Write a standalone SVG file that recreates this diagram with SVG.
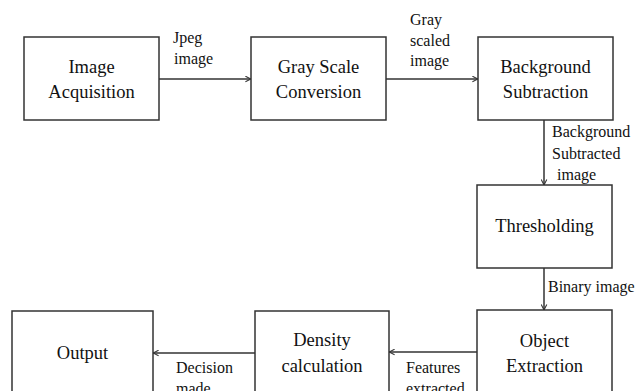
<svg xmlns="http://www.w3.org/2000/svg" width="637" height="391" viewBox="0 0 637 391">
<style>
.box{fill:#fff;stroke:#333;stroke-width:1.5}
.t{font-family:"Liberation Serif","Times New Roman",serif;font-size:18.5px;fill:#111;text-anchor:middle}
.l{font-family:"Liberation Serif","Times New Roman",serif;font-size:16px;fill:#111}
.c{stroke:#333;stroke-width:1.5;fill:none;marker-end:url(#arr)}
</style>
<defs>
<marker id="arr" viewBox="0 0 10 10" refX="9" refY="5" markerWidth="7" markerHeight="7" markerUnits="userSpaceOnUse" orient="auto">
<path d="M1,1 L9,5 L1,9" fill="none" stroke="#333" stroke-width="1.5"/>
</marker>
</defs>
<rect width="637" height="391" fill="#fff"/>
<g id="connectors">
<line class="c" x1="159" y1="79" x2="251" y2="79"/>
<line class="c" x1="386" y1="79" x2="478" y2="79"/>
<line class="c" x1="544" y1="120" x2="544" y2="185"/>
<line class="c" x1="544" y1="268" x2="544" y2="310"/>
<line class="c" x1="477" y1="352" x2="389" y2="352"/>
<line class="c" x1="255" y1="353" x2="153" y2="353"/>
<text class="l" x="173" y="43">Jpeg</text>
<text class="l" x="174" y="64">image</text>
<text class="l" x="410" y="25">Gray</text>
<text class="l" x="410" y="46">scaled</text>
<text class="l" x="410" y="66">image</text>
<text class="l" x="552" y="137">Background</text>
<text class="l" x="552" y="159">Subtracted</text>
<text class="l" x="557" y="180">image</text>
<text class="l" x="548" y="292">Binary image</text>
<text class="l" x="406" y="373">Features</text>
<text class="l" x="406" y="394">extracted</text>
<text class="l" x="176" y="373">Decision</text>
<text class="l" x="176" y="394">made</text>
</g>
<g id="n1"><rect class="box" x="24" y="37" width="135" height="83"/><text class="t" x="91.5" y="73">Image</text><text class="t" x="91.5" y="98">Acquisition</text></g>
<g id="n2"><rect class="box" x="251" y="37" width="135" height="83"/><text class="t" x="318.5" y="73">Gray Scale</text><text class="t" x="318.5" y="98">Conversion</text></g>
<g id="n3"><rect class="box" x="478" y="37" width="135" height="83"/><text class="t" x="545.5" y="73">Background</text><text class="t" x="545.5" y="98">Subtraction</text></g>
<g id="n4"><rect class="box" x="477" y="185" width="135" height="83"/><text class="t" x="544.5" y="232">Thresholding</text></g>
<g id="n5"><rect class="box" x="477" y="310" width="135" height="86"/><text class="t" x="544.5" y="347">Object</text><text class="t" x="544.5" y="372">Extraction</text></g>
<g id="n6"><rect class="box" x="255" y="311" width="134" height="85"/><text class="t" x="322" y="346">Density</text><text class="t" x="322" y="372">calculation</text></g>
<g id="n7"><rect class="box" x="12" y="311" width="141" height="85"/><text class="t" x="82.5" y="359">Output</text></g>
</svg>
